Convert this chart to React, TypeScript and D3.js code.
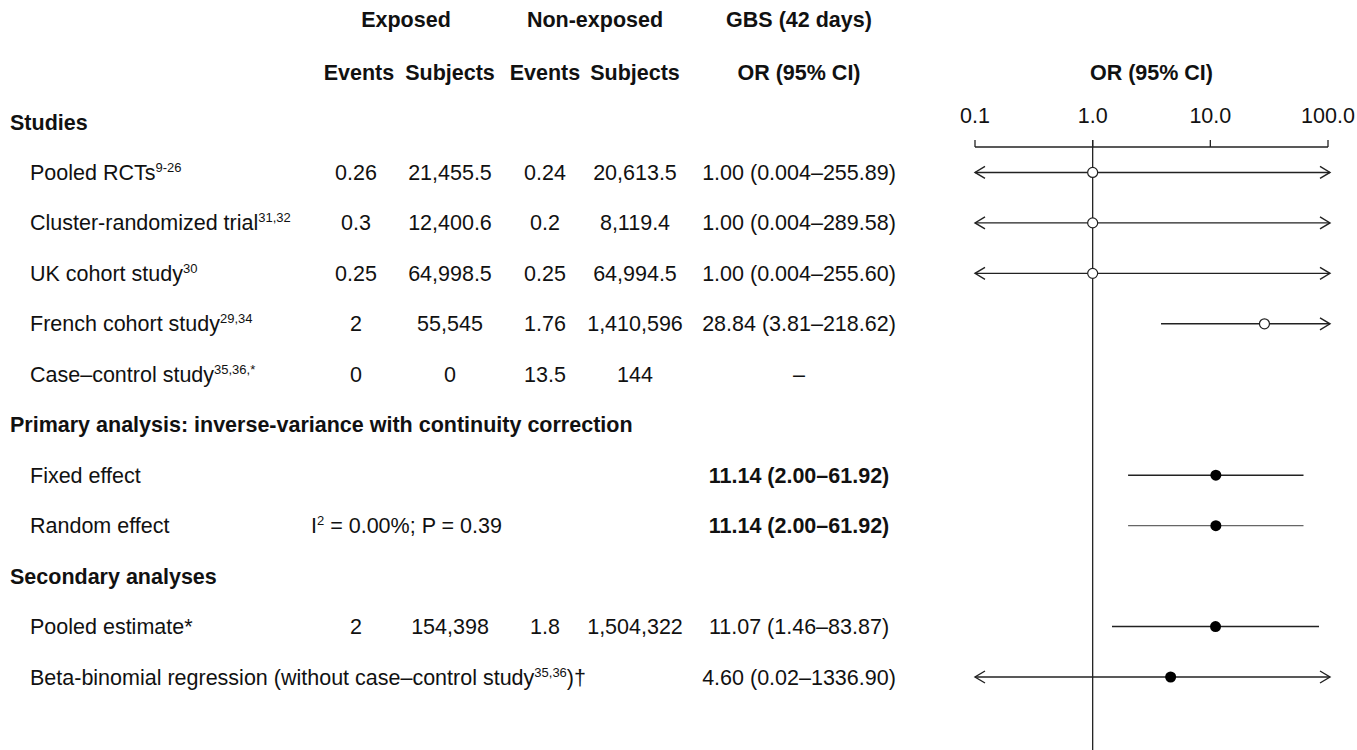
import React from "react";
import * as d3 from "d3";

// rows of the table (top to bottom)
const rowIds = ["studies", "rct", "cluster", "uk", "french", "cc", "primary", "fixed", "random", "secondary", "pooled", "beta"];
const rowKinds = ["header", "row", "row", "row", "row", "row", "header", "row", "row", "header", "row", "row"];
const rowLabels = [
  "Studies",
  "Pooled RCTs",
  "Cluster-randomized trial",
  "UK cohort study",
  "French cohort study",
  "Case\u2013control study",
  "Primary analysis: inverse-variance with continuity correction",
  "Fixed effect",
  "Random effect",
  "Secondary analyses",
  "Pooled estimate*",
  "Beta-binomial regression (without case\u2013control study",
];
const rowSups = ["", "9-26", "31,32", "30", "29,34", "35,36,*", "", "", "", "", "", "35,36"];
const rowTail = ["", "", "", "", "", "", "", "", "", "", "", ")\u2020"];

const expEvents = ["", "0.26", "0.3", "0.25", "2", "0", "", "", "", "", "2", ""];
const expSubjects = ["", "21,455.5", "12,400.6", "64,998.5", "55,545", "0", "", "", "", "", "154,398", ""];
const nonEvents = ["", "0.24", "0.2", "0.25", "1.76", "13.5", "", "", "", "", "1.8", ""];
const nonSubjects = ["", "20,613.5", "8,119.4", "64,994.5", "1,410,596", "144", "", "", "", "", "1,504,322", ""];
const orText = [
  "",
  "1.00 (0.004\u2013255.89)",
  "1.00 (0.004\u2013289.58)",
  "1.00 (0.004\u2013255.60)",
  "28.84 (3.81\u2013218.62)",
  "\u2013",
  "",
  "11.14 (2.00\u201361.92)",
  "11.14 (2.00\u201361.92)",
  "",
  "11.07 (1.46\u201383.87)",
  "4.60 (0.02\u20131336.90)",
];
const orBold = [false, false, false, false, false, false, false, true, true, false, false, false];

const orEst = [NaN, 1.0, 1.0, 1.0, 28.84, NaN, NaN, 11.14, 11.14, NaN, 11.07, 4.6];
const ciLow = [NaN, 0.004, 0.004, 0.004, 3.81, NaN, NaN, 2.0, 2.0, NaN, 1.46, 0.02];
const ciHigh = [NaN, 255.89, 289.58, 255.6, 218.62, NaN, NaN, 61.92, 61.92, NaN, 83.87, 1336.9];
const markerOpen = [false, true, true, true, true, false, false, false, false, false, false, false];

const axisTicks = [0.1, 1, 10, 100];

const FONT = "'Liberation Sans', Arial, Helvetica, sans-serif";

export default function App() {
  const W = 1357, H = 750;
  const x = d3.scaleLog().domain([0.1, 100]).range([975, 1328]);
  const y = d3.scalePoint<string>().domain(rowIds).range([122, 677]);
  const axisY = 147;
  const fs = 21.5;
  const base = 7.5; // baseline offset from row centre
  const col = { ev1: 356, sub1: 450, ev2: 545, sub2: 635, or: 799 };

  const arrow = (xe: number, yc: number, dir: number) =>
    `M${xe - dir * 10},${yc - 6}L${xe},${yc}L${xe - dir * 10},${yc + 6}`;

  return (
    <svg width={W} height={H} style={{ position: "absolute", left: 0, top: 0, background: "#fff" }} fontFamily={FONT} fontSize={fs} fill="#111">
      {/* column headers */}
      <g fontWeight="bold" textAnchor="middle">
        <text x={406} y={27}>Exposed</text>
        <text x={595} y={27}>Non-exposed</text>
        <text x={col.or} y={27}>GBS (42 days)</text>
        <text x={col.ev1 + 3} y={80}>Events</text>
        <text x={col.sub1} y={80}>Subjects</text>
        <text x={col.ev2} y={80}>Events</text>
        <text x={col.sub2} y={80}>Subjects</text>
        <text x={col.or} y={80}>OR (95% CI)</text>
        <text x={x(3.16)} y={80}>OR (95% CI)</text>
      </g>

      {/* table rows */}
      {rowIds.map((id, i) => {
        const yc = y(id)!;
        const header = rowKinds[i] === "header";
        return (
          <g key={id}>
            <text x={header ? 10 : 30} y={yc + base} fontWeight={header ? "bold" : "normal"}>
              {rowLabels[i]}
              {rowSups[i] && <tspan fontSize={13} dy={-8}>{rowSups[i]}</tspan>}
              {rowTail[i] && <tspan dy={8}>{rowTail[i]}</tspan>}
            </text>
            <text x={col.ev1} y={yc + base} textAnchor="middle">{expEvents[i]}</text>
            <text x={col.sub1} y={yc + base} textAnchor="middle">{expSubjects[i]}</text>
            <text x={col.ev2} y={yc + base} textAnchor="middle">{nonEvents[i]}</text>
            <text x={col.sub2} y={yc + base} textAnchor="middle">{nonSubjects[i]}</text>
            <text x={col.or} y={yc + base} textAnchor="middle" fontWeight={orBold[i] ? "bold" : "normal"}>{orText[i]}</text>
            {id === "random" && (
              <text x={311} y={yc + base}>
                I<tspan fontSize={13} dy={-8}>2</tspan><tspan dy={8}> = 0.00%; P = 0.39</tspan>
              </text>
            )}
          </g>
        );
      })}

      {/* forest axis */}
      <g stroke="#222" strokeWidth={1.3} fill="none">
        <line x1={x(0.1)} x2={x(100)} y1={axisY} y2={axisY} />
        {axisTicks.map((t) => (
          <line key={t} x1={x(t)} x2={x(t)} y1={axisY} y2={axisY - 7} />
        ))}
        <line x1={x(1)} x2={x(1)} y1={axisY - 7} y2={H} />
      </g>
      <g textAnchor="middle">
        {axisTicks.map((t) => (
          <text key={t} x={x(t)} y={123}>{t.toFixed(1)}</text>
        ))}
      </g>

      {/* estimates */}
      {rowIds.map((id, i) => {
        if (isNaN(orEst[i])) return null;
        const yc = y(id)!;
        const lo = ciLow[i] < 0.1;
        const hi = ciHigh[i] > 100;
        const x1 = lo ? x(0.1) : x(ciLow[i]);
        const x2 = hi ? x(100) + 2 : x(ciHigh[i]);
        const stroke = id === "random" ? "#666" : "#222";
        return (
          <g key={id}>
            <line x1={x1} x2={x2} y1={yc} y2={yc} stroke={stroke} strokeWidth={1.4} />
            {lo && <path d={arrow(x1, yc, -1)} fill="none" stroke="#222" strokeWidth={1.4} />}
            {hi && <path d={arrow(x2, yc, 1)} fill="none" stroke="#222" strokeWidth={1.4} />}
            {markerOpen[i] ? (
              <circle cx={x(orEst[i])} cy={yc} r={5} fill="#fff" stroke="#222" strokeWidth={1.2} />
            ) : (
              <circle cx={x(orEst[i])} cy={yc} r={5.5} fill="#000" />
            )}
          </g>
        );
      })}
    </svg>
  );
}
